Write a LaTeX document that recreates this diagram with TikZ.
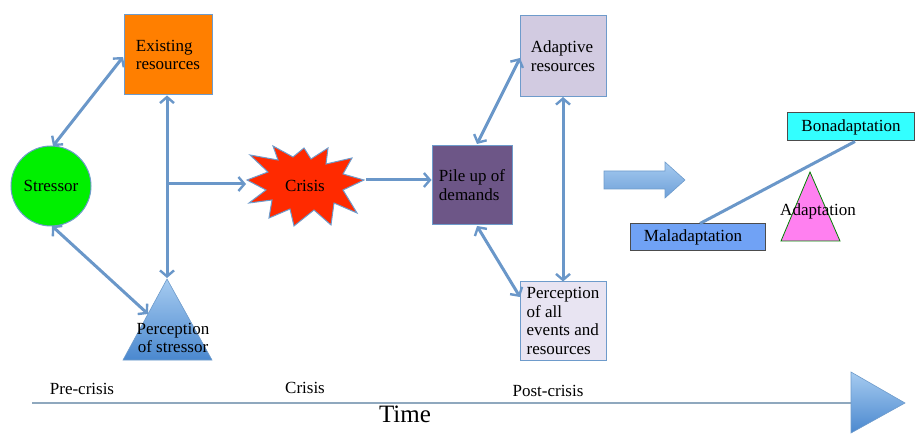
\documentclass[tikz,border=0pt]{standalone}
\usepackage{fontspec}
\setmainfont{Liberation Serif}
\usetikzlibrary{arrows.meta,shapes.geometric}
\definecolor{arrblue}{HTML}{6A97C9}
\definecolor{bordblue}{HTML}{6E9BCB}
\definecolor{axisc}{HTML}{8FA8BE}
\definecolor{existc}{HTML}{FF7F00}
\definecolor{stressc}{HTML}{00F000}
\definecolor{crisisc}{HTML}{FF2A00}
\definecolor{pilec}{HTML}{6D5687}
\definecolor{adaptc}{HTML}{D2CBE1}
\definecolor{percc}{HTML}{E8E4F2}
\definecolor{bonac}{HTML}{33FFFF}
\definecolor{malac}{HTML}{70A2F5}
\definecolor{pinkc}{HTML}{FF80F0}
\definecolor{lightb}{HTML}{A6CBF0}
\definecolor{darkb}{HTML}{4A88CF}
\tikzset{
  every node/.style={font=\fontsize{17}{18.5}\selectfont, inner sep=0pt},
  box/.style={draw=bordblue, line width=1pt, align=left},
  sbox/.style={draw=black!70, line width=1pt},
  barb/.style={Straight Barb[length=6pt,width=14pt,line width=2.4pt]},
  conn/.style={draw=arrblue, line width=3pt, {Straight Barb[length=6pt,width=14pt,line width=2.4pt]}-{Straight Barb[length=6pt,width=14pt,line width=2.4pt]}},
  oneway/.style={draw=arrblue, line width=3pt, -{Straight Barb[length=6pt,width=14pt,line width=2.4pt]}},
  small/.style={font=\fontsize{17}{19}\selectfont}
}
\begin{document}
\begin{tikzpicture}[x=1pt,y=-1pt]
\useasboundingbox (0,0) rectangle (917,435);
% boxes
\node[box, fill=existc, minimum width=88pt, minimum height=80pt] (ex) at (168,55) {Existing\\resources};
\node[circle, draw=bordblue, line width=1pt, fill=stressc, minimum size=80pt] (st) at (51,186) {Stressor};
% perception of stressor triangle
\shade[top color=lightb, bottom color=darkb, draw=bordblue, line width=0.6pt] (167,279) -- (212,360) -- (123,360) -- cycle;
\coordinate (pstop) at (167,278);
\coordinate (psleft) at (148,314);
\node[align=center] (pst) at (173,338) {Perception\\ of stressor};
% crisis starburst
\fill[crisisc, draw=bordblue, line width=1pt]
  (247,180) -- (268,172) -- (250,155) -- (278,160) -- (273,146) -- (293,157) -- (304,148)
  -- (311,159) -- (328,148) -- (326,164) -- (352,158) -- (343,174) -- (364,180)
  -- (343,190) -- (357,213) -- (334,203) -- (331,225) -- (314,210) -- (294,226)
  -- (290,209) -- (269,218) -- (272,200) -- (249,203) -- (266,190) -- cycle;
\node (cr) at (305,186) {Crisis};
\coordinate (crL) at (246,184);
\coordinate (crR) at (366,180);
% pile up
\node[box, fill=pilec, minimum width=80pt, minimum height=79pt] (pile) at (472,185) {Pile up of\\demands};
\node[box, fill=adaptc, minimum width=86pt, minimum height=81pt] (ad) at (563,56) {Adaptive\\resources};
\node[box, fill=percc, minimum width=86pt, minimum height=78pt] (pa) at (563,321) {Perception\\of all\\events and\\resources};
% connectors
\coordinate (brk) at (167,184);
\draw[conn] (53,146) -- (123,57);
\draw[conn] (52,226) -- (psleft);
\draw[conn] (ex.south -| pstop) -- (pstop);
\draw[oneway] (brk) -- (crL);
\draw[oneway] (crR) -- (pile.west |- crR);
\draw[conn] (477,144) -- (520,58);
\draw[conn] (477,226) -- (520,297);
\draw[conn] (ad.south) -- (pa.north);
% block arrow
\shade[top color=lightb, bottom color=darkb!80, draw=bordblue, line width=0.6pt]
  (604,171) -- (665,171) -- (665,162) -- (685,180) -- (665,198) -- (665,189) -- (604,189) -- cycle;
% adaptation part
\node[sbox, fill=bonac, minimum width=127pt, minimum height=28pt] (bona) at (851,127) {Bonadaptation};
\node[sbox, fill=malac, minimum width=135pt, minimum height=27pt] (mala) at (698,237) {\hspace*{-10pt}Maladaptation};
\draw[arrblue, line width=3pt] (700,223.5) -- (855,141.5);
\fill[pinkc, draw=green!50!black, line width=0.8pt] (810,172) -- (840,241) -- (781,241) -- cycle;
\node (adn) at (818,211) {Adaptation};
% timeline
\coordinate (tl) at (32,403);
\coordinate (tr) at (852,403);
\draw[axisc, line width=2.5pt] (tl) -- (tr);
\shade[top color=lightb, bottom color=darkb, draw=bordblue, line width=0.6pt] (851,372) -- (905,403) -- (851,433) -- cycle;
\node[small] (pre) at (82,389) {Pre-crisis};
\node[small] (cri) at (305,388) {Crisis};
\node[small] (post) at (548,391) {Post-crisis};
\node[font=\fontsize{25}{27}\selectfont] (time) at (405,414) {Time};
\end{tikzpicture}
\end{document}
